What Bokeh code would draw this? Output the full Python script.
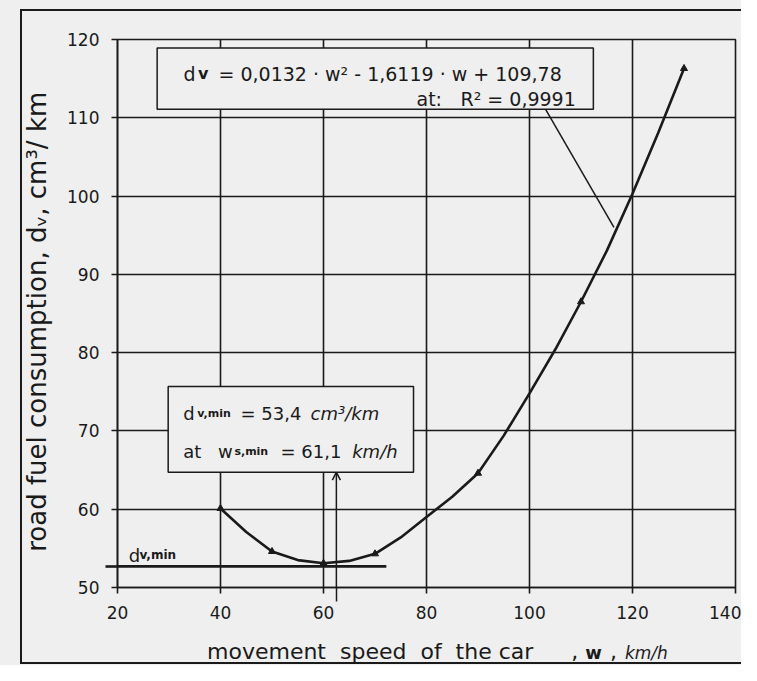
from bokeh.plotting import figure
from bokeh.layouts import column
from bokeh.models import (Label, BoxAnnotation, Arrow, OpenHead, FixedTicker, Range1d,
                          Div, InlineStyleSheet)
from bokeh.embed import file_html
from bokeh.resources import INLINE

# ---------------- data ----------------
speed = [40, 50, 60, 70, 90, 110, 130]                       # km/h, measured points
consumption = [60.1, 54.6, 53.1, 54.3, 64.6, 86.5, 116.3]    # cm3/km

trend_speed = [40, 45, 50, 55, 60, 65, 70, 75, 80, 85, 90, 95, 100, 105, 110, 115, 120, 125, 130]
trend_cons = [60.1, 57.1, 54.6, 53.5, 53.1, 53.4, 54.3, 56.4, 59.0, 61.6, 64.6, 69.4,
              74.8, 80.4, 86.5, 93.0, 100.3, 108.1, 116.3]

x_ticks = [20, 40, 60, 80, 100, 120, 140]
y_ticks = [50, 60, 70, 80, 90, 100, 110, 120]

dv_min_level = 52.7      # drawn level of the minimum consumption line
w_min_drawn = 62.5       # drawn position of the minimum-speed arrow

INK = "#1a1a1a"
BG = "#efefef"
FONT = "DejaVu Sans"

p = figure(width=741, height=632, output_backend="svg", toolbar_location=None,
           x_range=Range1d(20, 140), y_range=Range1d(50, 120),
           min_border_left=117, min_border_right=6, min_border_top=39, min_border_bottom=45,
           background_fill_color=BG, border_fill_color=BG)

p.outline_line_color = INK
p.outline_line_width = 1.6

for g, t in ((p.xgrid, x_ticks), (p.ygrid, y_ticks)):
    g.ticker = FixedTicker(ticks=t)
    g.grid_line_color = INK
    g.grid_line_width = 1.6

# the marker lines of the minimum run a little past the axes: drawn as single minor ticks
p.xaxis.ticker = FixedTicker(ticks=x_ticks, minor_ticks=[w_min_drawn])
p.yaxis.ticker = FixedTicker(ticks=y_ticks, minor_ticks=[dv_min_level])
for ax in (p.xaxis, p.yaxis):
    ax.axis_line_color = INK
    ax.axis_line_width = 1.6
    ax.major_tick_line_color = INK
    ax.major_tick_line_width = 1.6
    ax.major_tick_in = 0
    ax.major_tick_out = 6
    ax.minor_tick_line_color = INK
    ax.minor_tick_in = 0
    ax.major_label_text_font = FONT
    ax.major_label_text_font_size = "17px"
    ax.major_label_text_color = INK
p.xaxis.minor_tick_out = 14
p.xaxis.minor_tick_line_width = 1.5
p.yaxis.minor_tick_out = 12
p.yaxis.minor_tick_line_width = 2.6
p.xaxis.major_label_standoff = 4
p.yaxis.major_label_standoff = 6

p.yaxis.axis_label = "road fuel consumption,  d\u1d65,  cm\u00b3/ km"
p.yaxis.axis_label_text_font = FONT
p.yaxis.axis_label_text_font_size = "26px"
p.yaxis.axis_label_text_font_style = "normal"
p.yaxis.axis_label_text_color = INK
p.yaxis.axis_label_standoff = 12

# curve and points
p.line(trend_speed, trend_cons, line_width=2.6, line_color=INK)
p.scatter(speed, consumption, marker="triangle", size=7, color=INK)

# minimum line and arrow
p.add_layout(Arrow(end=None, x_start=17.7, y_start=dv_min_level, x_end=72.2, y_end=dv_min_level,
                   line_color=INK, line_width=2.6))
p.add_layout(Arrow(end=OpenHead(size=8, line_color=INK, line_width=1.5),
                   x_start=w_min_drawn, y_start=48.1, x_end=w_min_drawn, y_end=64.73,
                   line_color=INK, line_width=1.5))

# leader line from equation box to the curve
p.add_layout(Arrow(end=None, x_start=103.1, y_start=111.1, x_end=116.4, y_end=96.0,
                   line_color=INK, line_width=1.5))

# boxes
p.add_layout(BoxAnnotation(left=27.7, right=112.4, bottom=111.1, top=118.9,
                           fill_color=BG, fill_alpha=1, line_color=INK, line_width=1.5, line_alpha=1))
p.add_layout(BoxAnnotation(left=29.84, right=77.48, bottom=64.73, top=75.68,
                           fill_color=BG, fill_alpha=1, line_color=INK, line_width=1.5, line_alpha=1))


def txt(x, y, s, size, style="normal"):
    p.add_layout(Label(x=x, y=y, text=s, text_font=FONT, text_font_size=size,
                       text_font_style=style, text_color=INK, text_baseline="alphabetic",
                       text_align="left"))


# equation box
txt(32.82, 115.62, "d", "19px")
txt(35.63, 115.62, "v", "16px", "bold")
txt(39.61, 115.62, "= 0,0132 \u00b7 w\u00b2 - 1,6119 \u00b7 w + 109,78", "19px")
txt(78.06, 112.42, "at:", "19px")
txt(86.6, 112.42, "R\u00b2 = 0,9991", "19px")

# minimum box
txt(32.76, 72.19, "d", "18px")
txt(35.48, 72.19, "v,min", "11px", "bold")
txt(43.88, 72.19, "= 53,4", "18px")
txt(57.48, 72.19, "cm\u00b3/km", "18px", "italic")
txt(32.76, 67.37, "at", "18px")
txt(39.5, 67.37, "w", "18px")
txt(42.7, 67.37, "s,min", "11px", "bold")
txt(51.65, 67.37, "= 61,1", "18px")
txt(65.57, 67.37, "km/h", "18px", "italic")

# label at the minimum line
txt(22.19, 54.09, "d", "18px")
txt(24.27, 54.09, "v,min", "12px", "bold")

# x axis title (mixed styles) as real text below the plot
x_title = Div(
    text=(
        '<div style="white-space:pre;font-family:\'DejaVu Sans\',sans-serif;color:#1a1a1a;'
        'font-size:22px;line-height:26px;padding-left:207px;padding-top:7px;">'
        '<span>movement  speed  of  the car</span>'
        '<span style="margin-left:38px">,</span>'
        '<b style="font-size:18px;margin-left:7px">w</b>'
        '<span style="margin-left:8px">,</span>'
        '<i style="font-size:17px;margin-left:8px">km/h</i>'
        '</div>'
    ),
    width=741, height=33, styles={"background-color": BG, "margin": "0", "padding": "0"},
)

frame_css = InlineStyleSheet(css=(
    ":host { position: relative; background-color: #efefef; }"
    ":host::after { content: ''; position: absolute; left: 20px; top: 9px; width: 721px;"
    " height: 655px; border: 2px solid #1a1a1a; border-right: none; box-sizing: border-box;"
    " pointer-events: none; z-index: 100; }"
))

layout = column(p, x_title, spacing=0, stylesheets=[frame_css])

open("out.html", "w").write(file_html(layout, INLINE))
